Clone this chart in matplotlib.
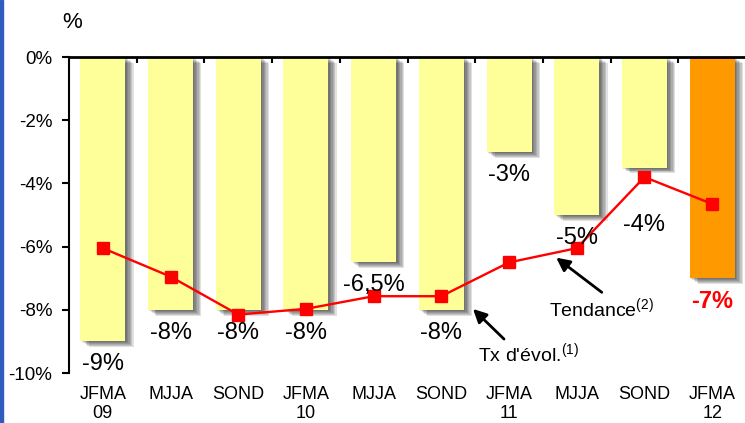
import matplotlib
matplotlib.use("Agg")
import matplotlib.pyplot as plt
import matplotlib.patheffects as pe
from matplotlib.patches import Rectangle

plt.rcParams['font.family'] = ['Liberation Sans', 'DejaVu Sans']

## Taux d'evolution par quadrimestre + tendance
periods = ["JFMA\n09", "MJJA", "SOND", "JFMA\n10", "MJJA", "SOND",
           "JFMA\n11", "MJJA", "SOND", "JFMA\n12"]
evol = [-9.0, -8.0, -8.0, -8.0, -6.5, -8.0, -3.0, -5.0, -3.5, -7.0]
evol_labels = ["-9%", "-8%", "-8%", "-8%", "-6,5%", "-8%", "-3%", "-5%", "-4%", "-7%"]
trend = [-6.05, -6.95, -8.15, -7.97, -7.57, -7.57, -6.5, -6.05, -3.8, -4.65]
yticks = [0, -2, -4, -6, -8, -10]

x = list(range(len(periods)))
bar_colors = ["#FFFF99"] * (len(x) - 1) + ["#FF9900"]

fig = plt.figure(figsize=(7.45, 4.23), dpi=100)
ax = fig.add_axes([69/745, 50/423, 677/745, 316/423])

# soft drop shadow on the bars
shadow = [pe.SimplePatchShadow(offset=(d, -d*0.7), shadow_rgbFace="black", alpha=0.12)
          for d in (1, 2, 3, 4, 5, 6)]
bars = ax.bar(x, evol, width=0.665, color=bar_colors, zorder=2,
              path_effects=shadow + [pe.Normal()])

ax.plot(x, trend, color="#FF0000", lw=1.7, marker="s", markersize=8, zorder=4)

# value labels under each bar
for i, (v, s) in enumerate(zip(evol, evol_labels)):
    off = -57 if i == 8 else -23
    last = i == len(x) - 1
    ax.annotate(s, xy=(i, v), xytext=(0, off), textcoords="offset pixels",
                ha="center", va="center", fontsize=17,
                color="#FF0000" if last else "black",
                fontweight="bold" if last else "normal", zorder=5)

# period labels below the plot
for i, p in enumerate(periods):
    ax.text(i, -0.04, p, transform=ax.get_xaxis_transform(), ha="center", va="top",
            fontsize=13, linespacing=1.15)

ax.set_xlim(-0.5, 9.5)
ax.set_ylim(-10, 0)
ax.set_yticks(yticks)
ax.set_yticklabels([f"{t}%" for t in yticks], fontsize=13.5)
ax.set_xticks([i + 0.5 for i in x[:-1]])
ax.xaxis.tick_top()
ax.tick_params(axis="x", direction="in", length=4, width=1.5, labeltop=False)
ax.tick_params(axis="y", direction="out", length=5, width=1.5, pad=7)
for side in ("bottom", "right"):
    ax.spines[side].set_visible(False)
ax.spines["top"].set_linewidth(2)
ax.spines["left"].set_linewidth(1.5)

fig.text(72/745, 1 - 23/423, "%", ha="center", va="center", fontsize=16)

# annotations
ax.annotate("", xy=(554, 423 - 256), xycoords="figure pixels",
            xytext=(604, 423 - 294), textcoords="figure pixels",
            arrowprops=dict(arrowstyle="-|>", color="black", lw=2, mutation_scale=20))
fig.text(549/745, 1 - 317/423, r"Tendance$^{\mathregular{(2)}}$", ha="left", va="baseline",
         fontsize=14)
ax.annotate("", xy=(471, 423 - 307), xycoords="figure pixels",
            xytext=(506, 423 - 341), textcoords="figure pixels",
            arrowprops=dict(arrowstyle="-|>", color="black", lw=2, mutation_scale=20))
fig.text(478/745, 1 - 362/423, r"Tx d'évol.$^{\mathregular{(1)}}$", ha="left", va="baseline",
         fontsize=14)

# blue frame edge on the left
fig.add_artist(Rectangle((0, 0), 3/745, 1, transform=fig.transFigure,
                         color="#2F5DBF", zorder=10))

fig.savefig("out.png", dpi=100)
